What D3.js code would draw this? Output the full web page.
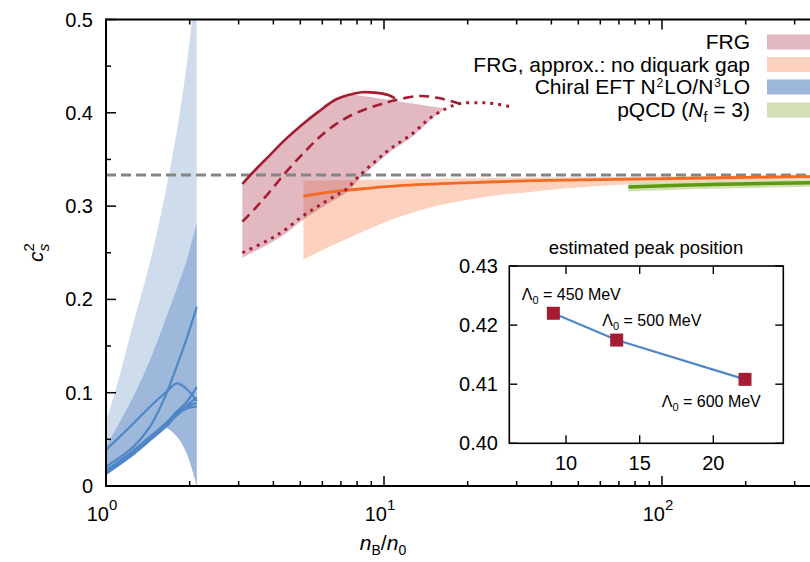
<!DOCTYPE html>
<html>
<head>
<meta charset="utf-8">
<script src="https://cdn.jsdelivr.net/npm/d3@7"></script>
<style>
body { margin: 0; background: #fff; }
text { font-family: "Liberation Sans", Arial, sans-serif; fill: #000; }
</style>
</head>
<body>
<svg id="chart" width="810" height="562"></svg>
<script>

// ---- data (n_B/n_0 , c_s^2) ----

// FRG curves, Lambda0 = 450 / 500 / 600 MeV
var frgSolidN = [3.094, 3.44, 3.84, 4.40, 5.06, 5.80, 6.66, 7.44, 8.31, 9.28, 10.36, 10.95];
var frgSolidC = [0.3237, 0.3387, 0.353, 0.371, 0.387, 0.401, 0.4137, 0.419, 0.422, 0.4216, 0.419, 0.4155];
var frgDashN = [3.094, 3.44, 3.84, 4.40, 5.06, 5.80, 6.66, 7.65, 8.78, 9.81, 10.95, 13.47, 15.9, 18.6];
var frgDashC = [0.2833, 0.2976, 0.3137, 0.335, 0.3548, 0.3727, 0.387, 0.3976, 0.4048, 0.4094, 0.4135, 0.418, 0.4155, 0.410];
var frgDotN = [3.094, 3.84, 4.40, 5.06, 5.80, 6.66, 7.24, 8.2, 9.28, 10.6, 12.7, 14.6, 16.8, 18.8, 22.1, 24.7, 28.4];
var frgDotC = [0.250, 0.2637, 0.2744, 0.2886, 0.300, 0.3108, 0.317, 0.3333, 0.3476, 0.362, 0.378, 0.394, 0.4048, 0.410, 0.4108, 0.410, 0.4066];

// FRG band
var frgBandTopN = [3.094, 3.44, 3.84, 4.40, 5.06, 5.80, 6.66, 7.44, 7.75];
var frgBandTopC = [0.3237, 0.3387, 0.353, 0.371, 0.387, 0.401, 0.4137, 0.419, 0.4195];
var frgBandLowN = [3.094, 3.84, 4.40, 5.06, 5.80, 6.66, 7.24, 8.2, 9.28, 10.6, 12.7, 14.6, 16.6];
var frgBandLowC = [0.2447, 0.259, 0.2697, 0.2842, 0.2958, 0.3068, 0.3132, 0.3297, 0.3442, 0.3588, 0.375, 0.3915, 0.4046];

// FRG, approx.: no diquark gap
var noGapN = [5.13, 6.57, 8.66, 11.4, 19.8, 34.4, 78.8, 313, 400];
var noGapC = [0.3108, 0.3154, 0.319, 0.3219, 0.325, 0.3272, 0.329, 0.3315, 0.332];
var noGapTopN = [5.13, 19.8, 78.8, 313, 400];
var noGapTopC = [0.327, 0.3298, 0.3315, 0.3333, 0.3336];
var noGapLowN = [5.13, 6.57, 8.66, 11.4, 15.0, 19.8, 26.1, 34.4, 45.4, 78.8, 137, 313, 400];
var noGapLowC = [0.243, 0.2583, 0.2744, 0.2886, 0.2994, 0.3065, 0.3119, 0.3154, 0.319, 0.3237, 0.326, 0.3287, 0.329];

// pQCD (Nf = 3)
var pqcdN = [75.7, 150, 400];
var pqcdC = [0.3205, 0.3232, 0.3255];
var pqcdTopC = [0.325, 0.327, 0.3292];
var pqcdLowC = [0.3155, 0.3185, 0.321];

// chiral EFT bands
var eftOuterTopN = [1, 1.10, 1.25, 1.44, 1.63, 1.85, 2.04, 2.12];
var eftOuterTopC = [0.0686, 0.110, 0.1726, 0.240, 0.312, 0.403, 0.5016, 0.58];
var eftInnerTopN = [1, 1.254, 1.44, 1.65, 1.90, 1.96, 2.12];
var eftInnerTopC = [0.042, 0.0957, 0.135, 0.1815, 0.2315, 0.244, 0.282];
var eftLowN = [1, 1.254, 1.44, 1.61, 1.80, 1.95, 2.06, 2.12];
var eftLowC = [0.013, 0.034, 0.049, 0.063, 0.053, 0.035, 0.0136, 0.0];

// chiral EFT lines
var eftLineN = [1, 1.254, 1.44, 1.65, 1.80, 1.95, 2.12];
var eftLines = [
	[0.0386, 0.067, 0.085, 0.101, 0.110, 0.104, 0.091],
	[0.0207, 0.042, 0.0636, 0.0993, 0.129, 0.158, 0.192],
	[0.017, 0.038, 0.053, 0.068, 0.080, 0.090, 0.106],
	[0.015, 0.036, 0.051, 0.066, 0.078, 0.086, 0.095],
	[0.014, 0.035, 0.050, 0.065, 0.077, 0.085, 0.089],
	[0.013, 0.034, 0.049, 0.064, 0.076, 0.083, 0.085]
];

var conformal = 1 / 3;

// inset: estimated peak position
var peakN = [9.14, 13.44, 22.15];
var peakC = [0.4220, 0.41747, 0.41082];
var peakLabels = ["450", "500", "600"];

// legend
var legendLabels = ["FRG", "FRG, approx.: no diquark gap", "Chiral EFT", "pQCD"];
var legendColors = ["#e2b8c0", "#fcd2bf", "#9db8da", "#d3e0b5"];

var yTicks = [0, 0.1, 0.2, 0.3, 0.4, 0.5];
var yMinor = [0.05, 0.15, 0.25, 0.35, 0.45];
var xMajor = [1, 10, 100];
var xExp = ["0", "1", "2"];
var xMinor = [2, 3, 4, 5, 6, 7, 8, 9, 20, 30, 40, 50, 60, 70, 80, 90, 200, 300, 400];
var insetXTicks = [10, 15, 20];
var insetYTicks = [0.40, 0.41, 0.42, 0.43];

// ---- scales ----
var svg = d3.select("#chart");

var x = d3.scaleLog()
	.domain([1, 400])
	.range([106, 106 + 278 * Math.log10(400)]);

var y = d3.scaleLinear()
	.domain([0, 0.5])
	.range([486, 19.5]);

var xi = d3.scaleLinear().domain([6.15, 24.75]).range([509.3, 783.3]);
var yi = d3.scaleLinear().domain([0.40, 0.43]).range([443.3, 266]);

var curve = d3.line().curve(d3.curveCatmullRom.alpha(0.5));

function pts(ns, cs) {
	return ns.map((n, i) => [x(n), y(cs[i])]);
}

function band(upN, upC, loN, loC) {
	var up = curve(pts(upN, upC));
	var lo = curve(pts(loN, loC).reverse());
	return up + "L" + lo.slice(1) + "Z";
}

svg.append("clipPath").attr("id", "plotClip")
	.append("rect")
	.attr("x", 106).attr("y", y(0.5))
	.attr("width", 800).attr("height", y(0) - y(0.5));

var plot = svg.append("g").attr("clip-path", "url(#plotClip)");

// bands
plot.append("path")
	.attr("d", band(noGapTopN, noGapTopC, noGapLowN, noGapLowC))
	.attr("fill", "rgba(248,155,113,0.45)");

plot.append("path")
	.attr("d", band(frgBandTopN, frgBandTopC, frgBandLowN, frgBandLowC))
	.attr("fill", "rgba(191,99,117,0.45)");

plot.append("path")
	.attr("d", band(eftOuterTopN, eftOuterTopC, eftLowN, eftLowC))
	.attr("fill", "#cfdcec");

plot.append("path")
	.attr("d", band(eftInnerTopN, eftInnerTopC, eftLowN, eftLowC))
	.attr("fill", "#9db8da");

plot.append("path")
	.attr("d", band(pqcdN, pqcdTopC, pqcdN, pqcdLowC))
	.attr("fill", "#d3e0b5");

// conformal limit
plot.append("line")
	.attr("x1", x(1)).attr("x2", 810)
	.attr("y1", y(conformal)).attr("y2", y(conformal))
	.attr("stroke", "#858585").attr("stroke-width", 2.8)
	.attr("stroke-dasharray", "10,5");

// lines
eftLines.forEach(function(cs) {
	plot.append("path")
		.attr("d", curve(pts(eftLineN, cs)))
		.attr("fill", "none").attr("stroke", "#4f86c6").attr("stroke-width", 2.2);
});

plot.append("path")
	.attr("d", curve(pts(noGapN, noGapC)))
	.attr("fill", "none").attr("stroke", "#f46a21").attr("stroke-width", 2.8);

plot.append("path")
	.attr("d", curve(pts(pqcdN, pqcdC)))
	.attr("fill", "none").attr("stroke", "#5e9a0f").attr("stroke-width", 3.5);

plot.append("path")
	.attr("d", curve(pts(frgSolidN, frgSolidC)))
	.attr("fill", "none").attr("stroke", "#a51d33").attr("stroke-width", 2.6);

plot.append("path")
	.attr("d", curve(pts(frgDashN, frgDashC)))
	.attr("fill", "none").attr("stroke", "#a51d33").attr("stroke-width", 2.6)
	.attr("stroke-dasharray", "10,6");

plot.append("path")
	.attr("d", curve(pts(frgDotN, frgDotC)))
	.attr("fill", "none").attr("stroke", "#a51d33").attr("stroke-width", 3)
	.attr("stroke-dasharray", "3,5");

// ---- frame and ticks ----
var frame = svg.append("g").attr("stroke", "#000").attr("fill", "none");

frame.append("line").attr("x1", 106).attr("x2", 810).attr("y1", y(0)).attr("y2", y(0)).attr("stroke-width", 2);
frame.append("line").attr("x1", 106).attr("x2", 810).attr("y1", y(0.5)).attr("y2", y(0.5)).attr("stroke-width", 2);
frame.append("line").attr("x1", 106).attr("x2", 106).attr("y1", y(0) + 1).attr("y2", y(0.5) - 1).attr("stroke-width", 2);

yTicks.concat(yMinor).forEach(function(t) {
	var len = yTicks.indexOf(t) >= 0 ? 10 : 5;
	frame.append("line").attr("x1", 106).attr("x2", 106 + len)
		.attr("y1", y(t)).attr("y2", y(t)).attr("stroke-width", 1.5);
});

xMajor.concat(xMinor).forEach(function(t) {
	var len = xMajor.indexOf(t) >= 0 ? 10 : 5;
	frame.append("line").attr("x1", x(t)).attr("x2", x(t))
		.attr("y1", y(0)).attr("y2", y(0) - len).attr("stroke-width", 1.5);
	frame.append("line").attr("x1", x(t)).attr("x2", x(t))
		.attr("y1", y(0.5)).attr("y2", y(0.5) + len).attr("stroke-width", 1.5);
});

// tick labels
svg.selectAll(".ylab")
	.data(yTicks)
	.enter()
	.append("text")
	.attr("class", "ylab")
	.attr("x", 93)
	.attr("y", d => y(d))
	.attr("text-anchor", "end")
	.attr("dominant-baseline", "central")
	.attr("font-size", 20)
	.text(d => d === 0 ? "0" : d3.format(".1f")(d));

xMajor.forEach(function(t, i) {
	var lab = svg.append("text")
		.attr("x", x(t) - 4).attr("y", 521)
		.attr("text-anchor", "middle")
		.attr("font-size", 20);
	lab.append("tspan").text("10");
	lab.append("tspan").attr("dy", -11).attr("font-size", 15).text(xExp[i]);
});

// axis titles
var xt = svg.append("text")
	.attr("x", 383).attr("y", 550)
	.attr("text-anchor", "middle")
	.attr("font-size", 21);
xt.append("tspan").attr("font-style", "italic").text("n");
xt.append("tspan").attr("font-size", 14).attr("dy", 5).text("B");
xt.append("tspan").attr("dy", -5).text("/");
xt.append("tspan").attr("font-style", "italic").text("n");
xt.append("tspan").attr("font-size", 14).attr("dy", 5).text("0");

var yt = svg.append("text")
	.attr("transform", "translate(43,262) rotate(-90)")
	.attr("font-size", 21);
yt.append("tspan").attr("font-style", "italic").text("c");
yt.append("tspan").attr("font-size", 15).attr("dy", -9).text("2");
yt.append("tspan").attr("font-size", 15).attr("font-style", "italic").attr("dx", -8).attr("dy", 15).text("s");

// ---- legend ----
var legendY = [42, 64.5, 87, 110];
var legend = svg.append("g");

legendLabels.forEach(function(lbl, i) {
	legend.append("rect")
		.attr("x", 767).attr("y", legendY[i] - 7.5)
		.attr("width", 60).attr("height", 15)
		.attr("fill", legendColors[i]);
	var t = legend.append("text")
		.attr("x", 750).attr("y", legendY[i] + 7)
		.attr("text-anchor", "end")
		.attr("font-size", 21);
	if (i === 2) {
		t.append("tspan").text("Chiral EFT N");
		t.append("tspan").attr("font-size", 12).attr("dx", 1).attr("dy", -7).text("2");
		t.append("tspan").attr("dx", 1).attr("dy", 7).text("LO/N");
		t.append("tspan").attr("font-size", 12).attr("dx", 1).attr("dy", -7).text("3");
		t.append("tspan").attr("dx", 1).attr("dy", 7).text("LO");
	} else if (i === 3) {
		t.append("tspan").text("pQCD (");
		t.append("tspan").attr("font-style", "italic").text("N");
		t.append("tspan").attr("font-size", 14).attr("dy", 5).text("f");
		t.append("tspan").attr("dy", -5).text(" = 3)");
	} else {
		t.text(lbl);
	}
});

// ---- inset ----
var inset = svg.append("g");

inset.append("text")
	.attr("x", 646).attr("y", 254)
	.attr("text-anchor", "middle")
	.attr("font-size", 18.5)
	.text("estimated peak position");

inset.append("rect")
	.attr("x", xi.range()[0]).attr("y", yi.range()[1])
	.attr("width", xi.range()[1] - xi.range()[0])
	.attr("height", yi.range()[0] - yi.range()[1])
	.attr("fill", "none").attr("stroke", "#000").attr("stroke-width", 1.6);

insetXTicks.forEach(function(t) {
	inset.append("line").attr("x1", xi(t)).attr("x2", xi(t))
		.attr("y1", yi(0.40)).attr("y2", yi(0.40) - 8).attr("stroke", "#000").attr("stroke-width", 1.4);
	inset.append("line").attr("x1", xi(t)).attr("x2", xi(t))
		.attr("y1", yi(0.43)).attr("y2", yi(0.43) + 8).attr("stroke", "#000").attr("stroke-width", 1.4);
	inset.append("text")
		.attr("x", xi(t)).attr("y", 470)
		.attr("text-anchor", "middle")
		.attr("font-size", 20)
		.text(t);
});

insetYTicks.forEach(function(t) {
	inset.append("line").attr("x1", xi.range()[0]).attr("x2", xi.range()[0] + 8)
		.attr("y1", yi(t)).attr("y2", yi(t)).attr("stroke", "#000").attr("stroke-width", 1.4);
	inset.append("line").attr("x1", xi.range()[1]).attr("x2", xi.range()[1] - 8)
		.attr("y1", yi(t)).attr("y2", yi(t)).attr("stroke", "#000").attr("stroke-width", 1.4);
	inset.append("text")
		.attr("x", 498).attr("y", yi(t))
		.attr("text-anchor", "end")
		.attr("dominant-baseline", "central")
		.attr("font-size", 20)
		.text(d3.format(".2f")(t));
});

inset.append("path")
	.attr("d", d3.line()(peakN.map((n, i) => [xi(n), yi(peakC[i])])))
	.attr("fill", "none").attr("stroke", "#4f86c6").attr("stroke-width", 2.2);

inset.selectAll(".peak")
	.data(peakN)
	.enter()
	.append("rect")
	.attr("class", "peak")
	.attr("x", d => xi(d) - 6.5)
	.attr("y", (d, i) => yi(peakC[i]) - 6.5)
	.attr("width", 13).attr("height", 13)
	.attr("fill", "#a51d33");

var annPos = [[521.7, 300], [602.3, 326], [661.7, 407]];
peakLabels.forEach(function(lbl, i) {
	var t = inset.append("text")
		.attr("x", annPos[i][0]).attr("y", annPos[i][1])
		.attr("font-size", 16);
	t.append("tspan").text("\u039B");
	t.append("tspan").attr("font-size", 11).attr("dy", 4).text("0");
	t.append("tspan").attr("dy", -4).text(" = " + lbl + " MeV");
});

</script>
</body>
</html>
